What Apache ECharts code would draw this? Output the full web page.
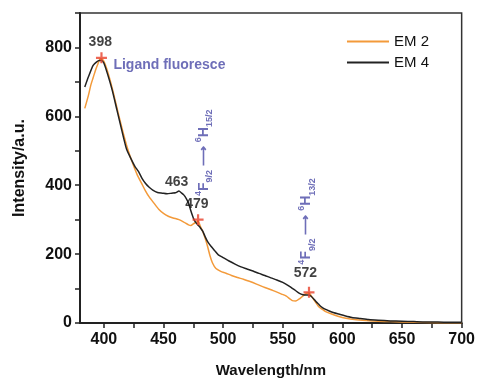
<!DOCTYPE html>
<html>
<head>
<meta charset="utf-8">
<script src="https://cdn.jsdelivr.net/npm/echarts@6/dist/echarts.min.js"></script>
<style>html,body{margin:0;padding:0;background:#fff;}#c{width:478px;height:383px;}</style>
</head>
<body>
<div id="c"></div>
<script>
// EM 4 (black)
const em4X = [384,387,391,394,396,398,400,403,407,411,415,419,423,426,429,432,435,438,441,445,449,453,457,460,463,465,467,469,471,473,475,477,479,481,483,485,487,490,493,496,500,505,510,515,520,525,530,535,540,545,550,555,560,564,567,570,572,574,576,578,580,582,585,589,593,597,602,608,615,622,630,640,650,660,670,680,690,700];
const em4Y = [685,714,748,758,762,762,755,724,676,618,560,505,475,455,440,420,405,394,386,379,377,375,377,378,383,378,372,362,348,325,305,292,284,276,266,250,236,222,210,198,190,180,171,163,157,151,144,138,131,125,118,108,96,86,82,81,81,77,70,62,55,48,41,35,30,26,21,16,13,10,8,6,5,4,3,3,2,2];
// EM 2 (orange)
const em2X = [384,387,389,391,393,395,397,399,401,404,408,412,416,420,424,428,432,435,438,442,446,450,454,458,463,467,471,473,475,477,479,481,483,485,487,489,491,494,498,502,507,512,517,522,528,535,542,549,553,556,558,561,564,567,570,572,574,576,578,580,583,586,591,597,603,610,620,630,640,650,660,680,700];
const em2Y = [623,660,690,712,734,752,767,765,752,720,668,610,555,505,465,430,403,383,366,348,330,318,310,305,300,293,285,283,288,292,296,280,265,245,222,195,175,158,150,145,138,132,127,121,113,103,94,84,78,70,65,64,70,79,86,88,78,68,58,48,40,33,26,19,14,10,7,5,4,3,2,1,1];
// peak markers
const peakX = [398, 479, 572];
const peakY = [770, 300, 89];
// annotation texts
const numLabels = [["398", 397, 815], ["463", 461, 410], ["479", 478, 344], ["572", 569, 145]];
const ligandLabel = ["Ligand fluoresce", 408, 748];
const transLabels = [
  ["{sup|4}{b|F}{sub|9/2}{b| ⟶ }{sup|6}{b|H}{sub|15/2}", 484, 494],
  ["{sup|4}{b|F}{sub|9/2}{b| ⟶ }{sup|6}{b|H}{sub|13/2}", 570, 295]
];
const xTicks = [400,450,500,550,600,650,700];
const xMinorTicks = [400,425,450,475,500,525,550,575,600,625,650,675,700];
const yTicks = [0,200,400,600,800];

const pair = (xs, ys) => xs.map((x, i) => [x, ys[i]]);
const blue = '#4a4aa6';
const font = '"Liberation Sans", Arial, sans-serif';

const chart = echarts.init(document.getElementById('c'), null, {renderer: 'canvas'});
chart.setOption({
  animation: false,
  backgroundColor: '#fff',
  grid: {left: 80, right: 15, top: 13, bottom: 59, show: true, borderColor: '#333', borderWidth: 1.5},
  legend: {
    orient: 'vertical', right: 44, top: 29, itemWidth: 42, itemHeight: 2, itemGap: 6,
    icon: 'rect',
    textStyle: {fontFamily: font, fontSize: 15, color: '#111'},
    data: ['EM 2', 'EM 4']
  },
  xAxis: [{
    type: 'value', min: 380, max: 700,
    axisLine: {lineStyle: {color: '#222', width: 2}},
    axisTick: {show: true, length: 5, inside: false, customValues: xMinorTicks, lineStyle: {color: '#222', width: 1.5}},
    splitLine: {show: false},
    axisLabel: {
      fontFamily: font, fontSize: 16, fontWeight: 'bold', color: '#111', margin: 9,
      customValues: xTicks
    },
    name: 'Wavelength/nm', nameLocation: 'middle', nameGap: 40,
    nameTextStyle: {fontFamily: font, fontSize: 15, fontWeight: 'bold', color: '#111'}
  }],
  yAxis: [{
    type: 'value', min: 0, max: 900, interval: 100,
    axisLine: {show: true, lineStyle: {color: '#222', width: 2}},
    axisTick: {show: true, length: 5, lineStyle: {color: '#222', width: 1.5}},
    splitLine: {show: false},
    axisLabel: {
      fontFamily: font, fontSize: 16, fontWeight: 'bold', color: '#111', margin: 8,
      formatter: v => yTicks.includes(v) ? String(v) : ''
    },
    name: 'Intensity/a.u.', nameLocation: 'middle', nameGap: 52,
    nameTextStyle: {fontFamily: font, fontSize: 16, fontWeight: 'bold', color: '#111'}
  }],
  series: [
    {
      name: 'EM 2', type: 'line', data: pair(em2X, em2Y), showSymbol: false, smooth: 0.2,
      lineStyle: {color: '#f39a3a', width: 1.5}, itemStyle: {color: '#f39a3a'}, z: 2
    },
    {
      name: 'EM 4', type: 'line', data: pair(em4X, em4Y), showSymbol: false, smooth: 0.2,
      lineStyle: {color: '#222', width: 1.5}, itemStyle: {color: '#222'}, z: 3
    },
    {
      type: 'scatter', data: pair(peakX, peakY), symbol: 'path://M4,0H6V4H10V6H6V10H4V6H0V4H4Z',
      symbolSize: 11, itemStyle: {color: '#e8412c'}, z: 5, silent: true
    },
    {
      type: 'scatter', symbolSize: 0, silent: true, z: 6,
      data: numLabels.map(d => ({value: [d[1], d[2]], name: d[0]})),
      label: {show: true, position: 'inside', formatter: p => p.name,
        fontFamily: font, fontSize: 14, fontWeight: 'bold', color: '#111'}
    },
    {
      type: 'scatter', symbolSize: 0, silent: true, z: 6,
      data: [{value: [ligandLabel[1], ligandLabel[2]], name: ligandLabel[0]}],
      label: {show: true, position: 'right', distance: 0, formatter: p => p.name,
        fontFamily: font, fontSize: 14, fontWeight: 'bold', color: blue}
    },
    {
      type: 'scatter', symbolSize: 0, silent: true, z: 6,
      data: transLabels.map(d => ({value: [d[1], d[2]], name: d[0]})),
      label: {show: true, position: 'inside', rotate: 90, formatter: p => p.name,
        fontFamily: font, color: blue,
        rich: {
          b: {fontFamily: font, fontSize: 14, fontWeight: 'bold', color: blue, lineHeight: 20, verticalAlign: 'middle'},
          sup: {fontFamily: font, fontSize: 9, fontWeight: 'bold', color: blue, lineHeight: 20, verticalAlign: 'top'},
          sub: {fontFamily: font, fontSize: 9, fontWeight: 'bold', color: blue, lineHeight: 20, verticalAlign: 'bottom'}
        }}
    }
  ]
});
</script>
</body>
</html>
